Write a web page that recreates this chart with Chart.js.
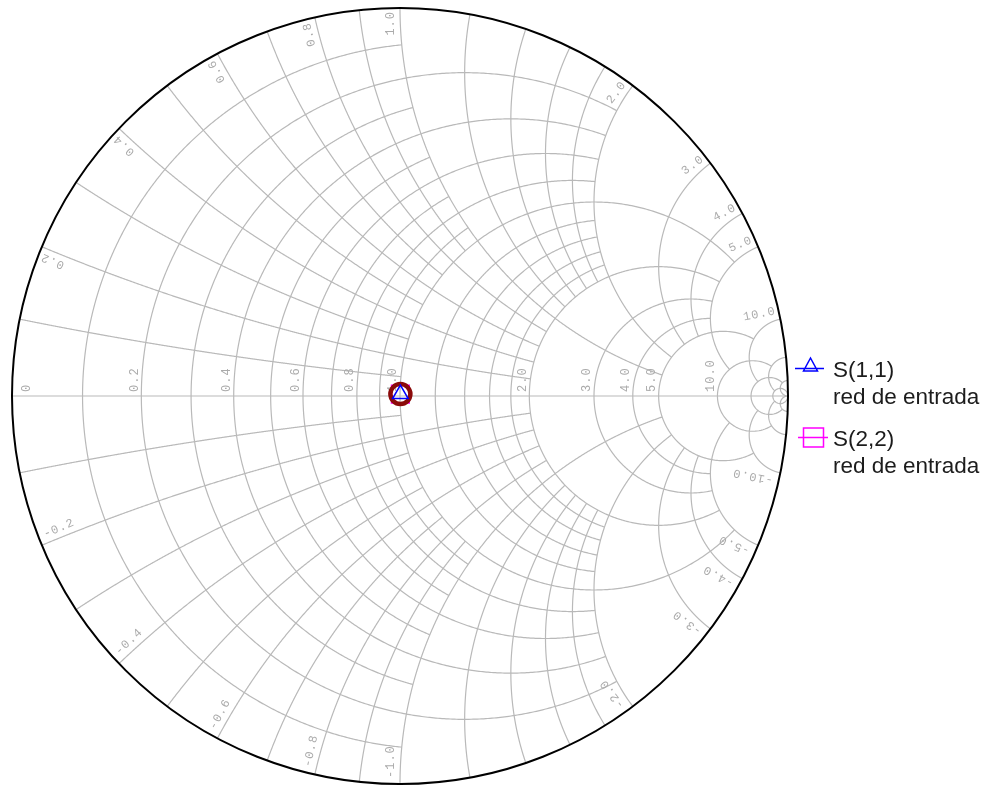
<!DOCTYPE html>
<html>
<head>
<meta charset="utf-8">
<script src="https://cdn.jsdelivr.net/npm/chart.js@4/dist/chart.umd.min.js"></script>
<style>
  html, body { margin: 0; padding: 0; background: #ffffff; }
  canvas { display: block; }
</style>
</head>
<body>
<canvas id="smith" width="992" height="785"></canvas>
<script>
// Constant-resistance circles and how far each one runs along the reactance direction
const resistanceValues = [0.1, 0.2, 0.3, 0.4, 0.5, 0.6, 0.7, 0.8, 0.9, 1.0, 1.2, 1.4, 1.6, 1.8, 2.0, 3.0, 4.0, 5.0, 10.0, 20.0, 50.0];
const resistanceReach  = [1, 2, 1, 2, 1, 2, 1, 2, 1, 5, 2, 2, 2, 2, 5, 5, 5, 10, 20, 50, Infinity];

// Constant-reactance arcs (drawn for +x and -x) and the resistance where each stops
const reactanceValues = [0.1, 0.2, 0.3, 0.4, 0.5, 0.6, 0.7, 0.8, 0.9, 1.0, 1.2, 1.4, 1.6, 1.8, 2.0, 3.0, 4.0, 5.0, 10.0, 20.0, 50.0];
const reactanceReach  = [1, 2, 1, 2, 1, 2, 1, 2, 1, 5, 2, 2, 2, 2, 5, 5, 5, 10, 20, 50, Infinity];

// Tick labels on the real axis (resistance) and round the rim (reactance)
const resistanceTickValues = [0, 0.2, 0.4, 0.6, 0.8, 1.0, 2.0, 3.0, 4.0, 5.0, 10.0];
const resistanceTickLabels = ['0', '0.2', '0.4', '0.6', '0.8', '1.0', '2.0', '3.0', '4.0', '5.0', '10.0'];
const reactanceTickValues = [0.2, 0.4, 0.6, 0.8, 1.0, 2.0, 3.0, 4.0, 5.0, 10.0, -0.2, -0.4, -0.6, -0.8, -1.0, -2.0, -3.0, -4.0, -5.0, -10.0];
const reactanceTickLabels = ['0.2', '0.4', '0.6', '0.8', '1.0', '2.0', '3.0', '4.0', '5.0', '10.0', '-0.2', '-0.4', '-0.6', '-0.8', '-1.0', '-2.0', '-3.0', '-4.0', '-5.0', '-10.0'];

// Reflection coefficients (real, imaginary)
const s11Re = [0.001];
const s11Im = [0.005];
const s22Re = [0.001];
const s22Im = [0.005];
const markerRe = [0.001];
const markerIm = [0.005];

// Legend entries
const legendNames = ['S(1,1)', 'S(2,2)'];
const legendNotes = ['red de entrada', 'red de entrada'];

const GRID = '#b9b9b9';
const TICK = '#ababab';

function gamma(r, x) {
  // reflection coefficient for z = r + jx : (z - 1) / (z + 1)
  const a = r - 1, c = r + 1;
  const den = c * c + x * x;
  return [(a * c + x * x) / den, (x * c - a * x) / den];
}

const smithGrid = {
  id: 'smithGrid',
  beforeDatasetsDraw(chart) {
    const { ctx, scales } = chart;
    const xs = scales.x, ys = scales.y;
    const px = v => xs.getPixelForValue(v);
    const py = v => ys.getPixelForValue(v);
    const N = 700;

    ctx.save();
    ctx.strokeStyle = GRID;
    ctx.lineWidth = 1.2;
    ctx.lineJoin = 'round';

    // resistance circles
    resistanceValues.forEach((r, i) => {
      const uMax = Math.atan(resistanceReach[i]);
      ctx.beginPath();
      for (let k = 0; k <= N; k++) {
        const u = -uMax + (2 * uMax) * k / N;
        const g = gamma(r, Math.tan(u));
        if (k === 0) ctx.moveTo(px(g[0]), py(g[1])); else ctx.lineTo(px(g[0]), py(g[1]));
      }
      ctx.stroke();
    });

    // reactance arcs
    reactanceValues.forEach((x, i) => {
      const uMax = Math.atan(reactanceReach[i]);
      [x, -x].forEach(xv => {
        ctx.beginPath();
        for (let k = 0; k <= N; k++) {
          const u = uMax * k / N;
          const g = gamma(Math.tan(u), xv);
          if (k === 0) ctx.moveTo(px(g[0]), py(g[1])); else ctx.lineTo(px(g[0]), py(g[1]));
        }
        ctx.stroke();
      });
    });

    // real axis
    ctx.beginPath();
    ctx.moveTo(px(-1), py(0));
    ctx.lineTo(px(1), py(0));
    ctx.stroke();

    // rim
    const cx = px(0), cy = py(0);
    const rx = px(1) - cx, ry = cy - py(1);
    ctx.strokeStyle = '#000000';
    ctx.lineWidth = 2;
    ctx.beginPath();
    ctx.ellipse(cx, cy, rx, ry, 0, 0, Math.PI * 2);
    ctx.stroke();

    // tick labels
    ctx.fillStyle = TICK;
    ctx.font = '12px "Liberation Mono", "DejaVu Sans Mono", monospace';
    ctx.letterSpacing = '1px';
    ctx.textBaseline = 'bottom';

    resistanceTickValues.forEach((r, i) => {
      const gx = (r - 1) / (r + 1);
      const ax = r === 0 ? px(-1) + 21 : px(gx) - 1;
      ctx.save();
      ctx.translate(ax, py(0) - 4);
      ctx.rotate(-Math.PI / 2);
      ctx.textAlign = 'left';
      ctx.fillText(resistanceTickLabels[i], 0, 0);
      ctx.restore();
    });

    const R = (rx + ry) / 2;
    reactanceTickValues.forEach((x, i) => {
      const g = gamma(0, x);
      const ex = px(g[0]), ey = py(g[1]);
      const a = Math.atan2(ey - cy, ex - cx);
      ctx.save();
      if (x > 0) {
        ctx.translate(cx + (R - 3) * Math.cos(a), cy + (R - 3) * Math.sin(a));
        ctx.rotate(a);
        ctx.textAlign = 'right';
      } else {
        ctx.translate(cx + (R - 6) * Math.cos(a), cy + (R - 6) * Math.sin(a));
        ctx.rotate(a + Math.PI);
        ctx.textAlign = 'left';
      }
      ctx.fillText(reactanceTickLabels[i], 0, -3);
      ctx.restore();
    });
    ctx.restore();
  }
};

const smithLegend = {
  id: 'smithLegend',
  afterDraw(chart) {
    const ctx = chart.ctx;
    ctx.save();
    // S(1,1): line with triangle
    ctx.strokeStyle = '#0000ff';
    ctx.lineWidth = 1.5;
    ctx.beginPath();
    ctx.moveTo(795, 368.5); ctx.lineTo(824, 368.5);
    ctx.moveTo(810.5, 358); ctx.lineTo(803.5, 371); ctx.lineTo(817.5, 371); ctx.closePath();
    ctx.stroke();
    // S(2,2): line with square
    ctx.strokeStyle = '#ff00ff';
    ctx.beginPath();
    ctx.moveTo(798, 437.5); ctx.lineTo(828, 437.5);
    ctx.rect(803.5, 428, 20, 19);
    ctx.stroke();

    ctx.fillStyle = '#1c1c1c';
    ctx.font = '22.5px "Liberation Sans", Arial, sans-serif';
    ctx.textAlign = 'left';
    ctx.textBaseline = 'alphabetic';
    ctx.fillText(legendNames[0], 833, 377);
    ctx.fillText(legendNotes[0], 833, 403.5);
    ctx.fillText(legendNames[1], 833, 446);
    ctx.fillText(legendNotes[1], 833, 472.5);
    ctx.restore();
  }
};

const toPoints = (re, im) => re.map((v, i) => ({ x: v, y: im[i] }));

new Chart(document.getElementById('smith'), {
  type: 'scatter',
  data: {
    datasets: [
      {
        label: legendNames[0],
        data: toPoints(s11Re, s11Im),
        pointStyle: 'triangle',
        pointRadius: 9,
        borderColor: '#0000ff',
        backgroundColor: 'rgba(0,0,0,0)',
        borderWidth: 1.5
      },
      {
        label: 'marcador',
        data: toPoints(markerRe, markerIm),
        pointStyle: 'circle',
        pointRadius: 10,
        borderColor: '#8b0a0a',
        backgroundColor: 'rgba(0,0,0,0)',
        borderWidth: 4.5
      },
      {
        label: legendNames[1],
        data: toPoints(s22Re, s22Im),
        pointStyle: 'rect',
        pointRadius: 12.5,
        borderColor: '#ff00ff',
        backgroundColor: 'rgba(0,0,0,0)',
        borderWidth: 1.5
      }
    ]
  },
  options: {
    responsive: false,
    animation: false,
    layout: { autoPadding: false, padding: { left: 12, right: 204, top: 8, bottom: 1 } },
    scales: {
      x: { type: 'linear', min: -1, max: 1, display: false },
      y: { type: 'linear', min: -1, max: 1, display: false }
    },
    plugins: {
      legend: { display: false },
      tooltip: { enabled: false }
    },
    events: []
  },
  plugins: [smithGrid, smithLegend]
});
</script>
</body>
</html>
